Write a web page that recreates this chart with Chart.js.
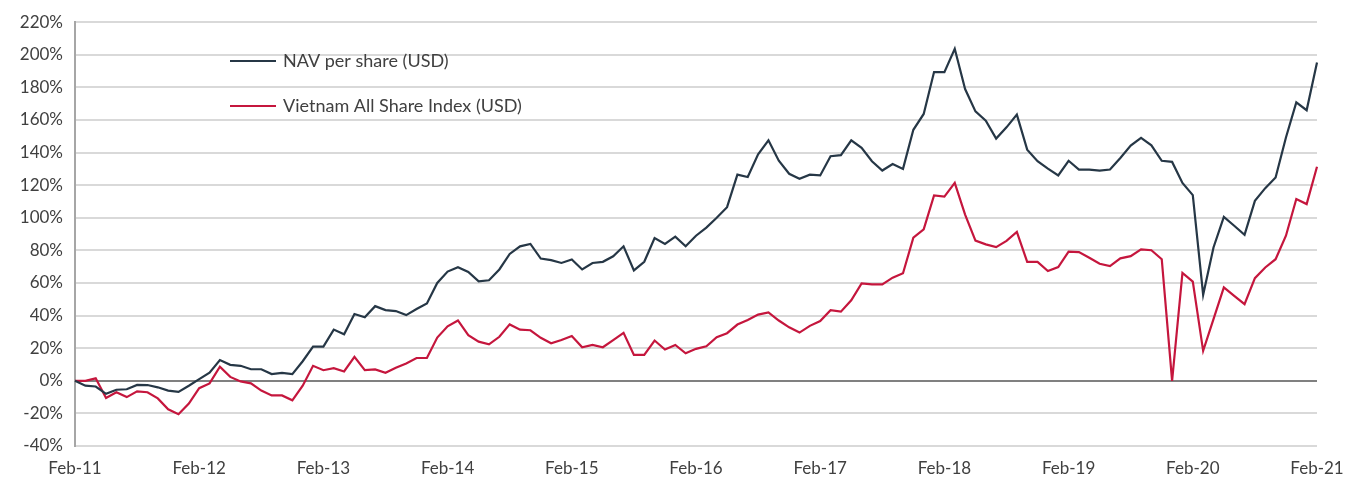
<!DOCTYPE html>
<html>
<head>
<meta charset="utf-8">
<title>NAV per share vs Vietnam All Share Index</title>
<script src="https://cdn.jsdelivr.net/npm/chart.js@4.4.1/dist/chart.umd.min.js"></script>
<style>
  html, body { margin: 0; padding: 0; background: #fff; }
  #wrap { width: 1359px; height: 479px; position: relative; }
</style>
</head>
<body>
<div id="wrap"><canvas id="perfChart"></canvas></div>
<script>
// Monthly data, Feb-11 to Feb-21 (cumulative return, %)
const monthNames = ["Jan", "Feb", "Mar", "Apr", "May", "Jun", "Jul", "Aug", "Sep", "Oct", "Nov", "Dec"];

const navPerShare = [
  0, -3, -3.5, -8, -5.5, -5.2, -2.5, -2.6, -4, -6, -6.8, -3, 1, 5, 12.7, 9.8, 9.2, 7.1, 7.1, 4.1, 4.9, 4.1, 12,
  21, 21, 31.4, 28.5, 41, 39, 45.8, 43.4, 42.8, 40.3, 44, 47.5, 60, 67, 69.7, 66.8, 61, 61.7, 68.3, 77.8, 82.5, 84,
  75, 74, 72.3, 74.4, 68.3, 72.3, 73, 76.4, 82.5, 67.7, 73, 87.6, 84, 88.4, 82.5, 89, 94, 100, 106.5, 126.5, 125,
  139, 147.5, 135, 127, 124, 126.5, 126, 137.8, 138.4, 147.5, 142.9, 134.7, 129, 133, 130, 154, 163.7, 189.4, 189.4,
  203.7, 179, 165.3, 159.6, 148.6, 155.5, 163.3, 141.8, 134.7, 130.2, 126, 135, 129.6, 129.6, 129, 129.6, 136.7,
  144.3, 149, 144.5, 135, 134.3, 121.4, 113.9, 52.8, 81.8, 100.6, 95.1, 89.6, 110.4, 118.2, 124.7, 149.3, 170.8,
  166, 195.3
];

const vnAllShare = [
  0, 0, 1.5, -10.5, -7, -10, -6.5, -7, -10.8, -17.5, -20.5, -14, -4.5, -1.6, 8.6, 2.4, -0.4, -1.6, -6, -9, -9, -12,
  -3, 9.2, 6.5, 7.8, 5.7, 14.7, 6.5, 7, 4.9, 8, 10.6, 14, 14, 26.5, 33.4, 37, 28, 24, 22.4, 27, 34.6, 31.4, 31,
  26.4, 23, 25, 27.5, 20.6, 22, 20.6, 25, 29.4, 15.9, 15.9, 24.7, 19.2, 22, 16.9, 19.6, 21.2, 26.7, 29.2, 34.5, 37.3,
  40.6, 42, 37, 32.8, 29.6, 33.7, 36.7, 43.3, 42.4, 49.4, 59.8, 59.2, 59.2, 63.3, 66, 87.8, 92.9, 113.7, 113, 121.4,
  102, 86, 83.7, 82, 85.8, 91.3, 72.9, 72.9, 67.3, 69.8, 79.2, 79, 75.5, 71.8, 70.4, 75.1, 76.5, 80.6, 80.1, 74.6,
  0, 66.2, 60.9, 18.4, 37.8, 57.3, 52.1, 47, 63, 69.5, 74.6, 89, 111.5, 108.4, 131.3
];

// Category labels: "Feb-11", "Mar-11", ... "Feb-21"
const categories = [];
for (let i = 0; i < navPerShare.length; i++) {
  const m = (1 + i) % 12;
  const yr = 11 + Math.floor((1 + i) / 12);
  categories.push(monthNames[m] + "-" + String(yr).padStart(2, "0"));
}

const yMin = -40;
const yMax = 220;
const yStep = 20;

const seriesNames = ["NAV per share (USD)", "Vietnam All Share Index (USD)"];
const seriesColors = ["#263746", "#c5163d"];

const textColor = "#404040";
const fontFamily = "Lato, 'Open Sans', sans-serif";

// Legend drawn inside the plot, top-left
const insideLegend = {
  id: "insideLegend",
  afterDraw(chart) {
    const ctx = chart.ctx;
    chart.data.datasets.forEach((ds, i) => {
      const y = 61 + i * 45;
      ctx.save();
      ctx.strokeStyle = ds.borderColor;
      ctx.lineWidth = 2;
      ctx.beginPath();
      ctx.moveTo(230, y);
      ctx.lineTo(276, y);
      ctx.stroke();
      ctx.fillStyle = textColor;
      ctx.font = "18px " + fontFamily;
      ctx.textBaseline = "middle";
      ctx.fillText(ds.label, 283, y);
      ctx.restore();
    });
  },
};

document.addEventListener("DOMContentLoaded", function () {
  const ctx = document.getElementById("perfChart").getContext("2d");
  new Chart(ctx, {
    type: "line",
    data: {
      labels: categories,
      datasets: [
        {
          label: seriesNames[0],
          data: navPerShare,
          borderColor: seriesColors[0],
          borderWidth: 2.2,
          pointRadius: 0,
          tension: 0,
          fill: false,
        },
        {
          label: seriesNames[1],
          data: vnAllShare,
          borderColor: seriesColors[1],
          borderWidth: 2.2,
          pointRadius: 0,
          tension: 0,
          fill: false,
        },
      ],
    },
    options: {
      responsive: true,
      maintainAspectRatio: false,
      animation: false,
      layout: {
        padding: { top: 20, right: 42, left: 0, bottom: 0 },
      },
      scales: {
        x: {
          grid: { display: false },
          border: { display: false },
          afterFit: (scale) => {
            scale.height = 33;
          },
          ticks: {
            autoSkip: false,
            maxRotation: 0,
            padding: 4,
            color: textColor,
            font: { family: fontFamily, size: 17 },
            callback: function (value, index) {
              return index % 12 === 0 ? this.getLabelForValue(value) : null;
            },
          },
        },
        y: {
          min: yMin,
          max: yMax,
          afterFit: (scale) => {
            scale.width = 75;
          },
          border: { display: true, color: "#a6a6a6", width: 2 },
          grid: {
            drawTicks: false,
            lineWidth: 2,
            color: (c) => (c.tick && c.tick.value === 0 ? "#808080" : "#d9d9d9"),
          },
          ticks: {
            stepSize: yStep,
            padding: 12,
            color: textColor,
            font: { family: fontFamily, size: 17 },
            callback: (v) => v + "%",
          },
        },
      },
      plugins: {
        legend: { display: false },
        tooltip: { enabled: false },
      },
    },
    plugins: [insideLegend],
  });
});
</script>
</body>
</html>
